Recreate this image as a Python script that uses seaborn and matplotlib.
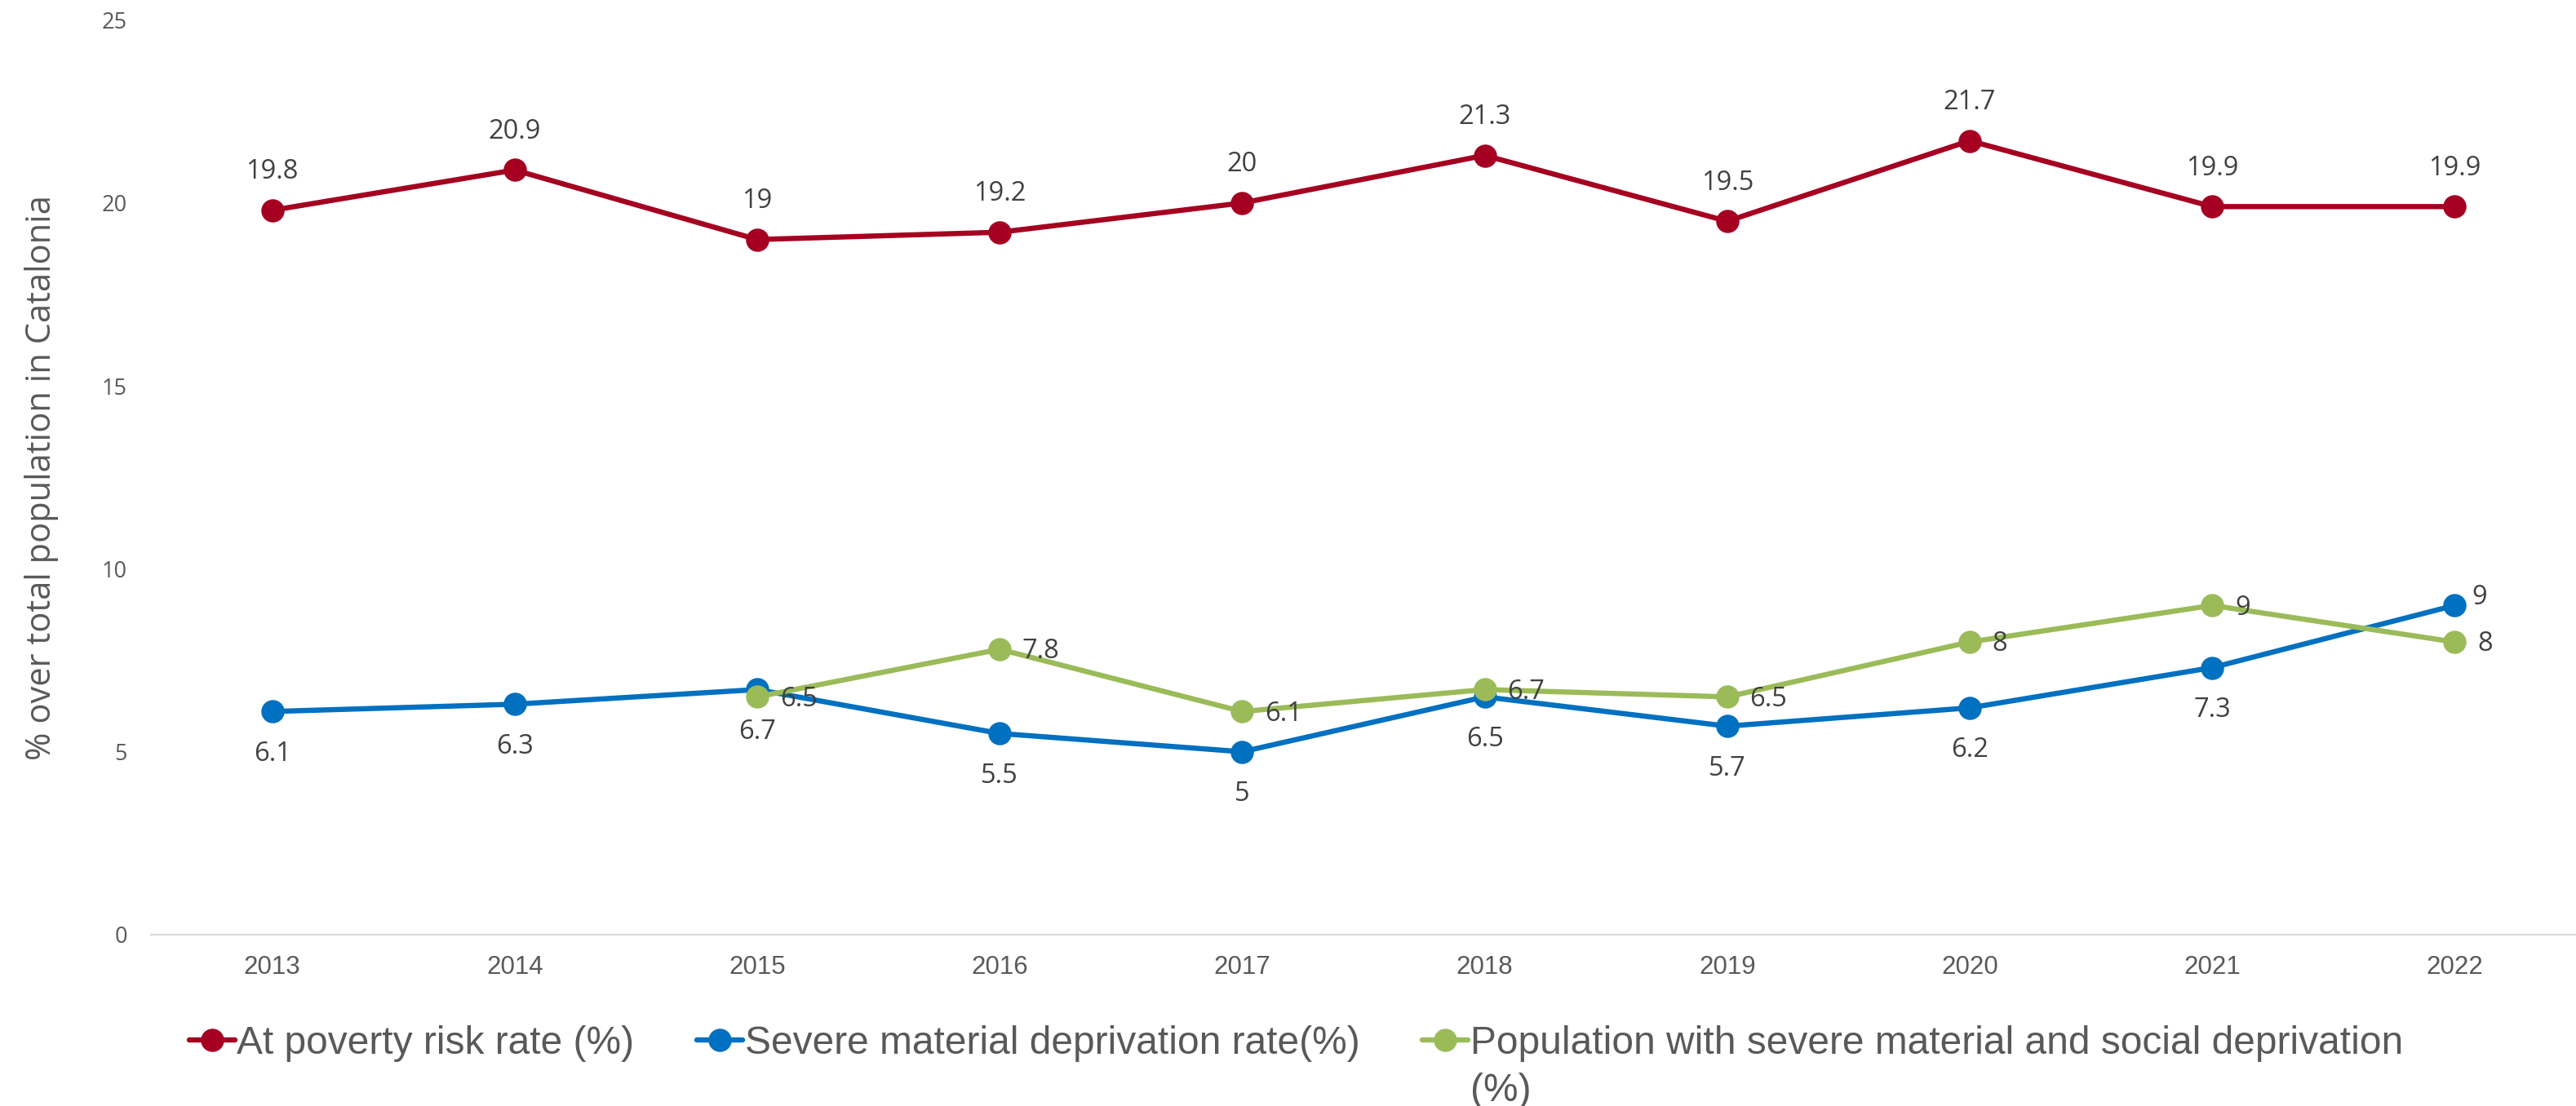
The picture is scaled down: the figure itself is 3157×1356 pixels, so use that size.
import numpy as np
import pandas as pd
import matplotlib
matplotlib.use("Agg")
import matplotlib.pyplot as plt
from matplotlib.lines import Line2D
import seaborn as sns

# ---- data -------------------------------------------------------------
years = [2013, 2014, 2015, 2016, 2017, 2018, 2019, 2020, 2021, 2022]
poverty_risk = [19.8, 20.9, 19, 19.2, 20, 21.3, 19.5, 21.7, 19.9, 19.9]
severe_material = [6.1, 6.3, 6.7, 5.5, 5, 6.5, 5.7, 6.2, 7.3, 9]
severe_material_social = [np.nan, np.nan, 6.5, 7.8, 6.1, 6.7, 6.5, 8, 9, 8]

series_names = [
    "At poverty risk rate (%)",
    "Severe material deprivation rate(%)",
    "Population with severe material and social deprivation",
]
series_values = [poverty_risk, severe_material, severe_material_social]
y_ticks = [0, 5, 10, 15, 20, 25]
y_label = "% over total population in Catalonia"

colors = ["#A50021", "#0070C0", "#9BBB59"]

frames = []
for name, vals in zip(series_names, series_values):
    frames.append(pd.DataFrame({"year": years, "value": vals, "series": name}))
df = pd.concat(frames, ignore_index=True).dropna()

# ---- styling ----------------------------------------------------------
sns.set_theme(style="white")
plt.rcParams["font.family"] = ["Liberation Sans", "DejaVu Sans"]
text_grey = "#595959"
label_grey = "#404040"
axis_grey = "#D9D9D9"
LW = 4.6
MS = 20.5

DPI = 100
fig = plt.figure(figsize=(31.57, 13.56), dpi=DPI)
ax = fig.add_axes([0.0586, 0.1549, 0.9414, 0.8270])

sns.lineplot(
    data=df, x="year", y="value", hue="series", hue_order=series_names,
    palette=colors, marker="o", markersize=MS, markeredgewidth=0,
    linewidth=LW, legend=False, ax=ax, sort=True,
)

ax.set_xlim(years[0] - 0.5, years[-1] + 0.5)
ax.set_ylim(0, 25)
ax.set_yticks(y_ticks)
ax.set_xticks(years)
ax.set_xticks([y - 0.5 for y in years] + [years[-1] + 0.5], minor=True)
ax.set_xticklabels([str(y) for y in years])
ax.set_xlabel("")
ax.set_ylabel(y_label, fontsize=30, color=text_grey, family=["Open Sans", "DejaVu Sans"],
              labelpad=38)

for side in ["top", "right", "left"]:
    ax.spines[side].set_visible(False)
ax.spines["bottom"].set_color(axis_grey)
ax.spines["bottom"].set_linewidth(1.6)

ax.tick_params(axis="x", which="major", length=0, pad=18, labelsize=22.5, labelcolor=text_grey)
ax.tick_params(axis="x", which="minor", length=6, width=1.4, color=axis_grey, direction="out")
ax.tick_params(axis="y", length=0, pad=21, labelsize=19.5, labelcolor=text_grey)
for t in ax.get_yticklabels():
    t.set_family(["Open Sans", "DejaVu Sans"])
ax.grid(False)

# ---- value labels -----------------------------------------------------
lab_kw = dict(textcoords="offset points", fontsize=23.5, color=label_grey,
              family=["Open Sans", "DejaVu Sans"], va="center")


def fmt(v):
    return f"{v:g}"


for x, v in zip(years, poverty_risk):
    ax.annotate(fmt(v), (x, v), xytext=(0, 34), ha="center", **lab_kw)

for x, v in zip(years, severe_material):
    if x == years[-1]:
        ax.annotate(fmt(v), (x, v), xytext=(15, 7), ha="left", **lab_kw)
    else:
        ax.annotate(fmt(v), (x, v), xytext=(0, -37.5), ha="center", **lab_kw)

for x, v in zip(years, severe_material_social):
    if np.isnan(v):
        continue
    ax.annotate(fmt(v), (x, v), xytext=(20, -2), ha="left", **lab_kw)

# ---- legend -----------------------------------------------------------
handles = [Line2D([0], [0], color=c, lw=LW, marker="o", markersize=MS,
                  markeredgewidth=0) for c in colors]
leg = fig.legend(
    handles, series_names, loc="upper left", bbox_to_anchor=(232 / 3157, 1 - 1257 / 1356),
    ncol=3, frameon=False, fontsize=34.5, handlelength=1.16, handletextpad=0.06,
    columnspacing=1.6, borderpad=0, borderaxespad=0,
)
for t in leg.get_texts():
    t.set_color(text_grey)

# wrapped tail of the third legend entry
fig.canvas.draw()
renderer = fig.canvas.get_renderer()
bb = leg.get_texts()[2].get_window_extent(renderer)
line_h = 34.5 * DPI / 72 * 1.22
fig.text(bb.x0 / fig.bbox.width, (bb.y0 - line_h) / fig.bbox.height, "(%)",
         fontsize=34.5, color=text_grey, ha="left", va="bottom")

fig.savefig("out.png", dpi=DPI)
